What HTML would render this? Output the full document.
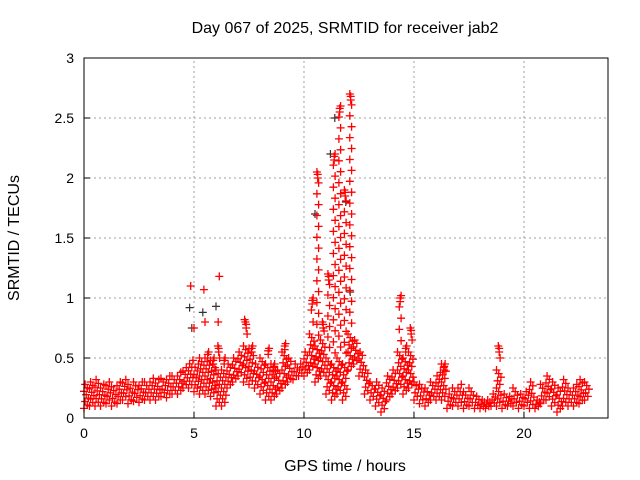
<!DOCTYPE html>
<html><head><meta charset="utf-8"><style>
body{margin:0;background:#fff;}
svg{display:block;font-family:"Liberation Sans",sans-serif;}
</style></head><body>
<svg id="chart" width="640" height="480">
<rect width="640" height="480" fill="#fff"/>
<text x="345" y="33" text-anchor="middle" font-size="16">Day 067 of 2025, SRMTID for receiver jab2</text>
<text x="345" y="471" text-anchor="middle" font-size="16">GPS time / hours</text>
<text transform="translate(19,238) rotate(-90)" text-anchor="middle" font-size="16">SRMTID / TECUs</text>
<g id="grid"></g><g id="marks"></g><g id="axes"></g>
</svg>
<script>
const xTicks=[0,5,10,15,20];
const yTicks=[0,0.5,1,1.5,2,2.5,3];
const yTickLabels=["0","0.5","1","1.5","2","2.5","3"];
const binStart=0, binWidth=0.25;
const lowVals=[.08,.1,.1,.1,.12,.1,.12,.15,.12,.14,.13,.15,.15,.15,.18,.17,.2,.2,.25,.25,.22,.2,.2,.18,.1,.1,.25,.3,.35,.3,.28,.25,.2,.15,.15,.2,.25,.3,.32,.35,.35,.4,.3,.35,.2,.15,.2,.15,.4,.45,.35,.2,.15,.1,.05,.15,.2,.25,.2,.25,.15,.12,.1,.15,.15,.15,.08,.1,.1,.08,.1,.08,.08,.08,.1,.1,.08,.1,.1,.08,.1,.08,.08,.12,.15,.1,.05,.1,.1,.1,.12,.15];
const highVals=[.28,.3,.32,.28,.3,.26,.3,.32,.28,.3,.3,.3,.33,.32,.33,.35,.35,.38,.42,.48,.45,.5,.55,.5,.6,.5,.45,.5,.55,.8,.6,.45,.5,.58,.45,.4,.62,.5,.45,.45,.55,1.0,2.05,.8,1.2,2.2,2.6,1.9,2.7,.65,.55,.4,.3,.3,.25,.35,.4,1.02,.6,.75,.3,.28,.25,.3,.38,.45,.2,.25,.28,.22,.25,.18,.15,.15,.2,.6,.2,.18,.25,.2,.22,.3,.15,.28,.35,.3,.25,.32,.25,.28,.32,.3];
const spikeTimes=[4.85,5.45,6.15,5.0,5.5,6.1,7.3];
const spikeVals=[1.1,1.07,1.18,0.75,0.8,0.8,0.82];
const blackTimes=[4.8,5.4,6.0,10.5,11.2,11.4,11.9,12.1,4.9];
const blackVals=[0.92,0.88,0.93,1.7,2.2,2.5,1.8,1.05,0.75];

const X0=84,X1=608,Y0=418,Y1=58,XMAX=23.82,YMAX=3;
const xs=v=>X0+v/XMAX*(X1-X0);
const ys=v=>Y0-v/YMAX*(Y0-Y1);
const NS="http://www.w3.org/2000/svg";
const grid=document.getElementById('grid'),marks=document.getElementById('marks'),axes=document.getElementById('axes');
function mk(tag,attrs,parent){const e=document.createElementNS(NS,tag);for(const k in attrs)e.setAttribute(k,attrs[k]);parent.appendChild(e);return e;}
xTicks.forEach(t=>{if(t>0){const g=mk('line',{x1:xs(t),x2:xs(t),y1:Y0,y2:Y1,stroke:'#a0a0a0','stroke-dasharray':'2,3'},grid);

}
const tk=mk('line',{x1:xs(t),x2:xs(t),y1:Y0,y2:Y0-6,stroke:'#000'},axes);


const lb=mk('text',{x:xs(t),y:Y0+20,'text-anchor':'middle','font-size':'14'},axes);lb.textContent=t;

});
yTicks.forEach((t,i)=>{if(t>0&&t<YMAX){const g=mk('line',{x1:X0,x2:X1,y1:ys(t),y2:ys(t),stroke:'#a0a0a0','stroke-dasharray':'2,3'},grid);

}
const tk=mk('line',{x1:X0,x2:X0+6,y1:ys(t),y2:ys(t),stroke:'#000'},axes);


const lb=mk('text',{x:X0-10,y:ys(t)+5,'text-anchor':'end','font-size':'14'},axes);lb.textContent=yTickLabels[i];

});
const frame=mk('rect',{x:X0,y:Y1,width:X1-X0,height:Y0-Y1,fill:'none',stroke:'#000'},axes);


let red='',blk='';
const plus=(t,v)=>{const x=xs(t).toFixed(1),y=ys(v).toFixed(1);return `M${x-4},${y}h8M${x},${y-4}v8`;};
const perm=[0,3,1,4,2];
lowVals.forEach((lo,i)=>{const hi=highVals[i],t0=binStart+i*binWidth;
const denseTop=Math.min(hi,lo+0.3);
const n=Math.max(4,Math.round((denseTop-lo)/0.03));
for(let k=0;k<=n;k++){const v=lo+(denseTop-lo)*k/n;const t=t0+perm[k%5]*binWidth/5;red+=plus(t,v);}
if(hi>denseTop){const m=Math.max(1,Math.round((hi-denseTop)/0.09));const tc=t0+binWidth/2;
for(let k=1;k<=m;k++){const v=denseTop+(hi-denseTop)*k/m;red+=plus(tc+((k%2)?0.04:-0.04),v);}
red+=plus(tc,hi-0.02);red+=plus(tc,hi-0.05);}});
spikeTimes.forEach((t,i)=>{red+=plus(t,spikeVals[i]);});
blackTimes.forEach((t,i)=>{blk+=plus(t,blackVals[i]);});
const pb=mk('path',{d:blk,stroke:'#333',fill:'none','stroke-width':'1.2'},marks);


const pr=mk('path',{d:red,stroke:'#ff0000',fill:'none','stroke-width':'1.3'},marks);


</script>
</body></html>
